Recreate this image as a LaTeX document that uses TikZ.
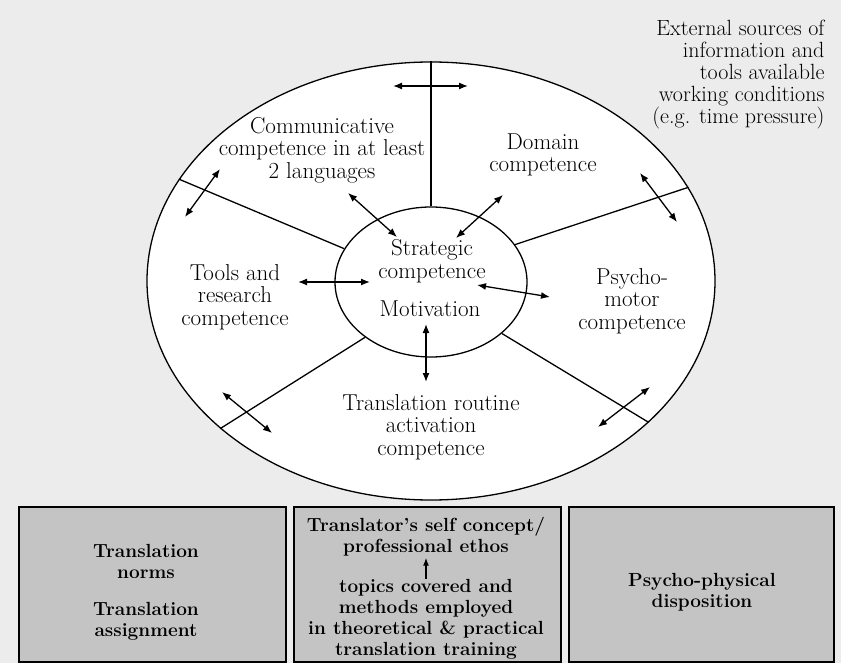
\documentclass[tikz,border=0pt]{standalone}
\usetikzlibrary{shapes.geometric,arrows.meta}

\definecolor{paper}{RGB}{236,236,236}
\definecolor{panelgrey}{RGB}{196,196,196}

\begin{document}
\begin{tikzpicture}[x=1pt,y=-1pt,
						ring/.style={ellipse,draw,fill=white,line width=1.3pt,inner sep=0pt},
						spoke/.style={line width=1.3pt},
						dbl/.style={line width=1.3pt,{Latex[length=9pt,width=7pt]}-{Latex[length=9pt,width=7pt]}},
						txt/.style={align=center,font=\fontsize{23}{22.5}\selectfont},
						panel/.style={draw,line width=1.5pt,fill=panelgrey,minimum width=267pt,minimum height=155pt},
						boxtxt/.style={align=center,inner sep=0pt,font=\fontsize{19}{21}\selectfont\bfseries}]
		\useasboundingbox (0,0) rectangle (841,663);
		\fill[paper] (0,0) rectangle (841,663);

		% the two rings and the spokes between them
		\node[ring,minimum width=568pt,minimum height=438pt]	(outer)	at (431,281)	{};
		\node[ring,minimum width=192pt,minimum height=150pt]	(core)	at (431,282)	{};

		\draw[spoke] (core.90) -- (outer.90);
		\draw[spoke] (core.159) -- (outer.158);
		\draw[spoke] (core.24) -- (outer.20);
		\draw[spoke] (core.220) -- (outer.215);
		\draw[spoke] (core.324) -- (outer.327);

		% competences
		\node[txt]	(comm)		at (322,150)	{Communicative\\competence in at least\\2 languages};
		\node[txt]	(domain)	at (543,155)	{Domain\\competence};
		\node[txt]	(tools)		at (235,297)	{Tools and\\research\\competence};
		\node[txt]	(psycho)	at (632,301)	{Psycho-\\motor\\competence};
		\node[txt]	(strat)		at (432,261)	{Strategic\\competence};
		\node[txt]	(motiv)		at (430,309)	{Motivation};
		\node[txt]	(routine)	at (431,427)	{Translation routine\\activation\\competence};
		\node[txt,align=right,anchor=east,font=\fontsize{22}{22}\selectfont]
					(extern)	at (828,75)		{External sources of\\information and\\tools available\\working conditions\\(e.g. time pressure)};

		% ends of the double arrows
		\coordinate (t1) at (393,86);	\coordinate (t2) at (468,86);
		\coordinate (a1) at (220,169);	\coordinate (a2) at (185,217);
		\coordinate (b1) at (348,193);	\coordinate (b2) at (397,237);
		\coordinate (c1) at (503,195);	\coordinate (c2) at (456,238);
		\coordinate (d1) at (640,173);	\coordinate (d2) at (677,222);
		\coordinate (e1) at (298,282);	\coordinate (e2) at (370,282);
		\coordinate (f1) at (477,285);	\coordinate (f2) at (550,297);
		\coordinate (g1) at (426,324);	\coordinate (g2) at (426,382);
		\coordinate (h1) at (222,392);	\coordinate (h2) at (272,433);
		\coordinate (k1) at (650,387);	\coordinate (k2) at (598,427);

		\draw[dbl] (t1) -- (t2);
		\draw[dbl] (a1) -- (a2);
		\draw[dbl] (b1) -- (b2);
		\draw[dbl] (c1) -- (c2);
		\draw[dbl] (d1) -- (d2);
		\draw[dbl] (e1) -- (e2);
		\draw[dbl] (f1) -- (f2);
		\draw[dbl] (g1) -- (g2);
		\draw[dbl] (h1) -- (h2);
		\draw[dbl] (k1) -- (k2);

		% the three boxes along the bottom
		\node[panel]						(normsbox)	at (152.5,584.5)	{};
		\node[panel]						(trainbox)	at (427.5,584.5)	{};
		\node[panel,minimum width=265pt]	(bodybox)	at (701.5,584.5)	{};

		\node[boxtxt]	(norms)		at (146,592)	{Translation\\norms\\[16pt]Translation\\assignment};
		\node[boxtxt]	(ethos)		at (426,537)	{Translator's self concept/\\professional ethos};
		\node[boxtxt]	(topics)	at (426,619)	{topics covered and\\methods employed\\in theoretical \& practical\\translation training};
		\node[boxtxt]	(disp)		at (702,592)	{Psycho-physical\\disposition};

		\draw[line width=1.3pt,-{Latex[length=8pt,width=6pt]},shorten >=1pt] (topics) -- (ethos);
	\end{tikzpicture}
\end{document}
